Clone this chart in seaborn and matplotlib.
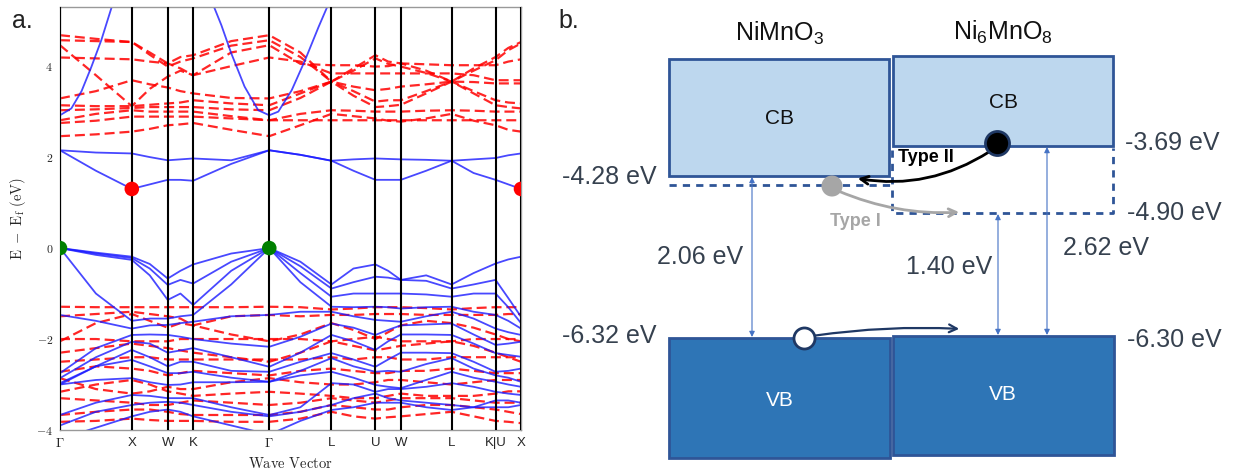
import numpy as np
import pandas as pd
import matplotlib
matplotlib.use('Agg')
import matplotlib.pyplot as plt
import seaborn as sns
from matplotlib.patches import Rectangle, FancyArrowPatch

# ---- panel a: band structure ----
kpath_labels = ['$\\Gamma$', 'X', 'W', 'K', '$\\Gamma$', 'L', 'U', 'W', 'L', 'K|U', 'X']
kpath_pos = [0.0, 1.0, 1.5, 1.854, 2.914, 3.780, 4.392, 4.746, 5.453, 6.065, 6.419]

# energies read at the path points and the midpoints between them
k_nodes = [0.0, 0.5, 1.0, 1.25, 1.5, 1.677, 1.854, 2.384, 2.914, 3.347, 3.780,
           4.086, 4.392, 4.569, 4.746, 5.099, 5.453, 5.759, 6.065, 6.242, 6.419]

# spin up (blue, solid)
up_bands = [
    [2.15, 2.10, 2.08, 2.00, 1.93, 1.95, 1.97, 1.93, 2.15, 2.05, 1.92, 1.95, 1.97, 1.96, 1.95, 1.94, 1.92, 1.95, 1.98, 2.04, 2.08],
    [2.15, 1.70, 1.30, 1.40, 1.50, 1.50, 1.48, 1.85, 2.15, 2.05, 1.92, 1.70, 1.50, 1.50, 1.50, 1.70, 1.92, 1.65, 1.50, 1.40, 1.30],
    [0.00, -0.10, -0.19, -0.35, -0.67, -0.50, -0.36, -0.12, 0.00, -0.30, -0.80, -0.45, -0.36, -0.50, -0.70, -0.60, -0.80, -0.55, -0.34, -0.25, -0.19],
    [0.00, -0.12, -0.22, -0.45, -0.81, -0.70, -0.78, -0.30, 0.00, -0.40, -0.89, -0.75, -0.63, -0.65, -0.70, -0.72, -0.89, -0.80, -0.70, -1.10, -1.51],
    [0.00, -0.15, -0.26, -0.60, -1.14, -1.00, -1.25, -0.50, 0.00, -0.55, -1.07, -1.00, -1.00, -1.00, -1.00, -1.02, -1.07, -1.00, -1.00, -1.30, -1.65],
    [0.00, -1.00, -1.60, -1.55, -1.55, -1.50, -1.47, -0.80, 0.00, -0.75, -1.29, -1.30, -1.29, -1.30, -1.33, -1.30, -1.29, -1.40, -1.47, -1.60, -1.77],
    [-1.47, -1.60, -1.77, -1.70, -1.69, -1.65, -1.62, -1.50, -1.47, -1.40, -1.40, -1.50, -1.58, -1.60, -1.62, -1.50, -1.40, -1.55, -1.77, -1.85, -1.91],
    [-2.75, -2.20, -1.91, -1.90, -1.91, -1.95, -2.00, -2.10, -2.17, -1.95, -1.66, -1.75, -1.91, -1.80, -1.70, -1.68, -1.66, -1.90, -2.13, -2.10, -2.06],
    [-2.86, -2.40, -2.06, -2.10, -2.30, -2.25, -2.20, -2.40, -2.61, -2.30, -1.91, -2.05, -2.24, -2.05, -1.90, -1.90, -1.91, -2.10, -2.31, -2.35, -2.39],
    [-2.97, -2.60, -2.24, -2.40, -2.60, -2.50, -2.50, -2.70, -2.72, -2.50, -2.31, -2.45, -2.61, -2.45, -2.30, -2.30, -2.31, -2.50, -2.72, -2.70, -2.65],
    [-3.00, -2.60, -2.46, -2.60, -2.75, -2.75, -2.72, -2.85, -2.94, -2.70, -2.42, -2.60, -2.72, -2.70, -2.72, -2.55, -2.42, -2.65, -2.80, -2.85, -2.94],
    [-3.00, -2.90, -2.86, -2.95, -3.01, -3.00, -2.95, -2.95, -2.94, -2.80, -2.72, -2.85, -3.01, -3.05, -3.08, -2.90, -2.72, -2.85, -2.94, -3.00, -3.05],
    [-3.67, -3.40, -3.23, -3.25, -3.30, -3.30, -3.30, -3.50, -3.67, -3.50, -2.97, -3.00, -3.16, -3.10, -3.10, -3.05, -2.97, -3.05, -3.16, -3.20, -3.23],
    [-3.90, -3.60, -3.45, -3.40, -3.38, -3.40, -3.45, -3.60, -3.70, -3.60, -3.45, -3.30, -3.20, -3.30, -3.35, -3.40, -3.45, -3.50, -3.35, -3.35, -3.40],
    [-4.20, -3.95, -3.70, -3.60, -3.55, -3.60, -3.70, -3.90, -4.10, -3.80, -3.56, -3.50, -3.40, -3.40, -3.40, -3.50, -3.56, -3.50, -3.50, -3.50, -3.45],
]
# steep conduction band around Gamma (read separately)
up_steep_k = [[0.0, 0.158, 0.30, 0.436, 0.575, 0.72],
              [2.145, 2.247, 2.385, 2.57, 2.76, 2.914, 3.04, 3.226, 3.412, 3.60, 3.72]]
up_steep_e = [[2.92, 3.07, 3.45, 3.98, 4.57, 5.30],
              [5.30, 4.90, 4.28, 3.55, 3.03, 2.92, 3.00, 3.47, 4.13, 4.86, 5.30]]

# spin down (red, dashed)
down_bands = [
    [4.68, 4.60, 4.53, 4.30, 4.06, 4.20, 4.24, 4.55, 4.68, 4.30, 3.66, 3.95, 4.24, 4.10, 4.06, 3.90, 3.66, 3.95, 4.20, 4.40, 4.53],
    [4.57, 4.55, 4.53, 4.25, 3.99, 4.10, 4.17, 4.45, 4.57, 4.20, 3.66, 3.90, 4.17, 4.05, 3.99, 3.85, 3.66, 3.90, 4.13, 4.35, 4.50],
    [4.46, 3.80, 3.12, 3.50, 3.77, 3.90, 3.80, 4.30, 4.46, 4.05, 4.02, 4.02, 3.99, 4.00, 4.06, 4.04, 4.02, 4.02, 4.02, 4.10, 4.15],
    [4.19, 4.17, 4.15, 4.10, 4.06, 3.95, 3.80, 4.00, 4.19, 4.10, 3.84, 3.84, 3.84, 3.84, 3.84, 3.84, 3.84, 3.80, 3.69, 3.69, 3.69],
    [3.29, 3.45, 3.69, 3.60, 3.53, 3.45, 3.40, 3.30, 3.29, 3.45, 3.66, 3.55, 3.47, 3.50, 3.55, 3.60, 3.66, 3.65, 3.62, 3.62, 3.62],
    [3.14, 3.12, 3.12, 3.15, 3.18, 3.20, 3.25, 3.18, 3.14, 3.40, 3.66, 3.45, 3.22, 3.25, 3.25, 3.45, 3.66, 3.45, 3.25, 3.20, 3.18],
    [3.03, 3.05, 3.08, 3.10, 3.10, 3.10, 3.10, 3.05, 3.03, 3.30, 3.66, 3.35, 3.10, 3.12, 3.15, 3.40, 3.66, 3.40, 3.14, 3.10, 3.07],
    [2.81, 2.95, 3.03, 3.00, 3.00, 3.00, 3.00, 2.90, 2.81, 2.95, 3.03, 3.02, 3.00, 3.00, 3.00, 3.02, 3.03, 3.02, 3.00, 3.00, 3.00],
    [2.75, 2.80, 2.89, 2.89, 2.89, 2.89, 2.89, 2.85, 2.81, 2.81, 2.81, 2.81, 2.81, 2.81, 2.81, 2.81, 2.81, 2.81, 2.81, 2.81, 2.81],
    [2.46, 2.50, 2.56, 2.62, 2.70, 2.72, 2.75, 2.60, 2.46, 2.70, 2.95, 2.90, 2.85, 2.80, 2.78, 2.85, 2.95, 2.80, 2.70, 2.60, 2.56],
    [-1.29, -1.30, -1.30, -1.30, -1.30, -1.30, -1.30, -1.30, -1.29, -1.30, -1.35, -1.33, -1.30, -1.30, -1.30, -1.32, -1.35, -1.32, -1.30, -1.30, -1.30],
    [-1.50, -1.45, -1.40, -1.45, -1.50, -1.55, -1.70, -1.50, -1.47, -1.50, -1.47, -1.47, -1.45, -1.45, -1.45, -1.47, -1.47, -1.47, -1.47, -1.45, -1.45],
    [-2.00, -2.00, -2.05, -2.05, -2.05, -2.00, -2.00, -2.00, -2.00, -2.00, -2.05, -2.00, -1.95, -2.00, -2.05, -2.05, -2.05, -2.00, -2.00, -2.00, -2.00],
    [-2.05, -1.65, -1.45, -1.60, -1.75, -1.65, -1.70, -1.90, -2.05, -1.90, -1.65, -1.80, -2.00, -1.85, -1.70, -1.60, -1.65, -1.75, -1.90, -2.00, -2.05],
    [-2.30, -2.20, -2.10, -2.15, -2.20, -2.25, -2.30, -2.40, -2.50, -2.30, -2.05, -2.15, -2.25, -2.20, -2.15, -2.10, -2.05, -2.15, -2.30, -2.40, -2.50],
    [-2.50, -2.45, -2.40, -2.40, -2.45, -2.45, -2.45, -2.45, -2.45, -2.45, -2.40, -2.45, -2.40, -2.40, -2.45, -2.45, -2.40, -2.40, -2.40, -2.40, -2.40],
    [-2.72, -2.60, -2.65, -2.70, -2.80, -2.75, -2.70, -2.75, -2.80, -2.70, -2.65, -2.70, -2.75, -2.75, -2.70, -2.70, -2.65, -2.70, -2.75, -2.75, -2.75],
    [-2.86, -3.10, -3.20, -3.15, -3.05, -3.10, -3.10, -2.95, -2.86, -2.95, -3.00, -3.00, -2.95, -2.90, -2.90, -2.95, -3.00, -2.95, -2.90, -2.90, -2.90],
    [-3.16, -3.00, -2.90, -3.00, -3.15, -3.20, -3.25, -3.20, -3.16, -3.20, -3.25, -3.30, -3.30, -3.25, -3.20, -3.25, -3.25, -3.25, -3.20, -3.15, -3.15],
    [-3.30, -3.35, -3.40, -3.45, -3.45, -3.40, -3.35, -3.40, -3.45, -3.40, -3.30, -3.35, -3.40, -3.35, -3.30, -3.30, -3.30, -3.35, -3.40, -3.40, -3.40],
    [-3.67, -3.60, -3.55, -3.55, -3.60, -3.65, -3.67, -3.67, -3.67, -3.60, -3.45, -3.50, -3.55, -3.55, -3.50, -3.45, -3.45, -3.50, -3.55, -3.60, -3.65],
    [-3.82, -3.80, -3.75, -3.78, -3.80, -3.80, -3.80, -3.82, -3.82, -3.75, -3.60, -3.70, -3.75, -3.72, -3.70, -3.65, -3.60, -3.70, -3.80, -3.82, -3.85],
]

cbm_k = [1.0, 6.419]
cbm_e = [1.3, 1.3]
vbm_k = [0.0, 2.914]
vbm_e = [0.0, 0.0]

# ---- panel b: band alignment ----
materials = ['NiMnO$_\\mathrm{3}$', 'Ni$_\\mathrm{6}$MnO$_\\mathrm{8}$']
cb_edges = [-4.28, -3.69]
vb_edges = [-6.32, -6.30]
cb_aligned = -4.90
gaps = [2.06, 1.40, 2.62]

rows = []
for i, band in enumerate(up_bands):
    for k, e in zip(k_nodes, band):
        rows.append(('up', 'u%d' % i, k, e))
for i, (ks, es) in enumerate(zip(up_steep_k, up_steep_e)):
    for k, e in zip(ks, es):
        rows.append(('up', 's%d' % i, k, e))
for i, band in enumerate(down_bands):
    for k, e in zip(k_nodes, band):
        rows.append(('down', 'd%d' % i, k, e))
df = pd.DataFrame(rows, columns=['spin', 'band', 'k', 'E'])

sns.set_style('white')
plt.rcParams['font.family'] = ['Liberation Sans', 'DejaVu Sans']
plt.rcParams['mathtext.fontset'] = 'custom'
plt.rcParams['mathtext.rm'] = 'Liberation Sans'

W, H = 1237, 469
fig = plt.figure(figsize=(W / 100, H / 100), dpi=100)
ax = fig.add_axes([60 / W, 1 - 430 / H, 461 / W, 423 / H])

sns.lineplot(data=df[df.spin == 'down'], x='k', y='E', units='band', estimator=None,
             sort=False, color='red', lw=1.6, alpha=0.85, ls=(0, (4.5, 2.2)), ax=ax)
sns.lineplot(data=df[df.spin == 'up'], x='k', y='E', units='band', estimator=None,
             sort=False, color='#1a1aff', lw=1.3, alpha=0.8, ax=ax)
for kp in kpath_pos:
    ax.axvline(kp, color='black', lw=1.5, zorder=3)
sns.scatterplot(x=cbm_k, y=cbm_e, color='red', s=110, edgecolor='none', zorder=5, ax=ax)
sns.scatterplot(x=vbm_k, y=vbm_e, color='green', s=110, edgecolor='none', zorder=5, ax=ax)

ax.set_xlim(kpath_pos[0], kpath_pos[-1])
ax.set_ylim(-4, 5.3)
ax.set_xticks(kpath_pos, labels=kpath_labels)
yt = [-4, -2, 0, 2, 4]
ax.set_yticks(yt, labels=['$%d$' % v for v in yt])
ax.tick_params(axis='both', direction='out', length=3, width=0.8, color='#555555', labelsize=8.5, pad=2)
ax.tick_params(axis='x', labelsize=9.5)
for t in ax.get_yticklabels() + ax.get_xticklabels():
    t.set_math_fontfamily('cm')
ax.set_xlabel('$\\mathrm{Wave\\ Vector}$', fontsize=10.5, math_fontfamily='cm', labelpad=4)
ax.set_ylabel('$\\mathrm{E\\ -\\ E_f\\ (eV)}$', fontsize=10.5, math_fontfamily='cm', labelpad=6)
for s in ax.spines.values():
    s.set_color('#999999')
    s.set_linewidth(1.0)

fig.text(12 / W, 1 - 28 / H, 'a.', fontsize=18, color='#222222')
fig.text(558 / W, 1 - 28 / H, 'b.', fontsize=18, color='#222222')

# schematic panel in pixel units
bx = fig.add_axes([550 / W, 0, (W - 550) / W, 1])
bx.set_xlim(550, W)
bx.set_ylim(H, 0)
bx.axis('off')

edge = '#2F5597'
light = '#BDD7EE'
dark = '#2E75B6'
txt = '#36414f'
gapc = '#4472C4'

# boxes (left, top, right, bottom)
cb_boxes = [(669, 59, 889, 176), (893, 56, 1113, 146)]
vb_boxes = [(669, 338, 890, 458), (893, 336, 1114, 455)]
for (l, t, r, b) in cb_boxes:
    bx.add_patch(Rectangle((l, t), r - l, b - t, facecolor=light, edgecolor=edge, lw=2))
for (l, t, r, b) in vb_boxes:
    bx.add_patch(Rectangle((l, t), r - l, b - t, facecolor=dark, edgecolor=edge, lw=2))

dash = dict(color=edge, lw=2, ls=(0, (2.6, 2.2)))
bx.plot([669, 892], [185, 185], **dash)
bx.plot([892, 892, 1113, 1113], [150, 213, 213, 148], **dash)

for name, (l, t, r, b), ty in zip(materials, cb_boxes, [33, 32]):
    bx.text((l + r) / 2, ty, name, ha='center', va='center', fontsize=18, color='#111111')
bx.text(780, 119, 'CB', ha='center', va='center', fontsize=15, color='#111111')
bx.text(1003, 102, 'CB', ha='center', va='center', fontsize=15, color='#111111')
bx.text(780, 400, 'VB', ha='center', va='center', fontsize=15, color='white')
bx.text(1003, 395, 'VB', ha='center', va='center', fontsize=15, color='white')

lab = dict(fontsize=18, color=txt, va='center')
bx.text(657, 177, '%.2f eV' % cb_edges[0], ha='right', **lab)
bx.text(656, 336, '%.2f eV' % vb_edges[0], ha='right', **lab)
bx.text(1125, 143, '%.2f eV' % cb_edges[1], ha='left', **lab)
bx.text(1127, 213, '%.2f eV' % cb_aligned, ha='left', **lab)
bx.text(1127, 340, '%.2f eV' % vb_edges[1], ha='left', **lab)
bx.text(743, 257, '%.2f eV' % gaps[0], ha='right', **lab)
bx.text(992, 267, '%.2f eV' % gaps[1], ha='right', **lab)
bx.text(1063, 248, '%.2f eV' % gaps[2], ha='left', **lab)

# gap arrows
for x, y0, y1 in [(752, 177, 337), (998, 214, 335), (1047, 147, 335)]:
    bx.annotate('', xy=(x, y1), xytext=(x, y0),
                arrowprops=dict(arrowstyle='<|-|>', color=gapc, lw=0.8, mutation_scale=8,
                                shrinkA=0, shrinkB=0))

# charge transfer arrows
bx.add_patch(FancyArrowPatch((992, 150), (855, 178), connectionstyle='arc3,rad=-0.2',
                             arrowstyle='->', mutation_scale=14, color='black', lw=2, zorder=4))
bx.add_patch(FancyArrowPatch((836, 190), (962, 212), connectionstyle='arc3,rad=0.12',
                             arrowstyle='->', mutation_scale=14, color='#A6A6A6', lw=2, zorder=4))
bx.add_patch(FancyArrowPatch((812, 336), (962, 329), connectionstyle='arc3,rad=-0.05',
                             arrowstyle='->', mutation_scale=14, color='#1F3864', lw=1.6, zorder=4))

bx.scatter([997], [143], s=300, color='black', edgecolor='#1F3864', lw=2, zorder=6)
bx.scatter([832], [186], s=230, color='#A6A6A6', edgecolor='none', zorder=6)
bx.scatter([804], [338], s=230, color='white', edgecolor='#1F3864', lw=2, zorder=6)

bx.text(898, 158, 'Type II', ha='left', va='center', fontsize=13, fontweight='bold', color='black')
bx.text(855, 221, 'Type I', ha='center', va='center', fontsize=13, fontweight='bold', color='#A6A6A6')

fig.savefig('out.png', dpi=100)
